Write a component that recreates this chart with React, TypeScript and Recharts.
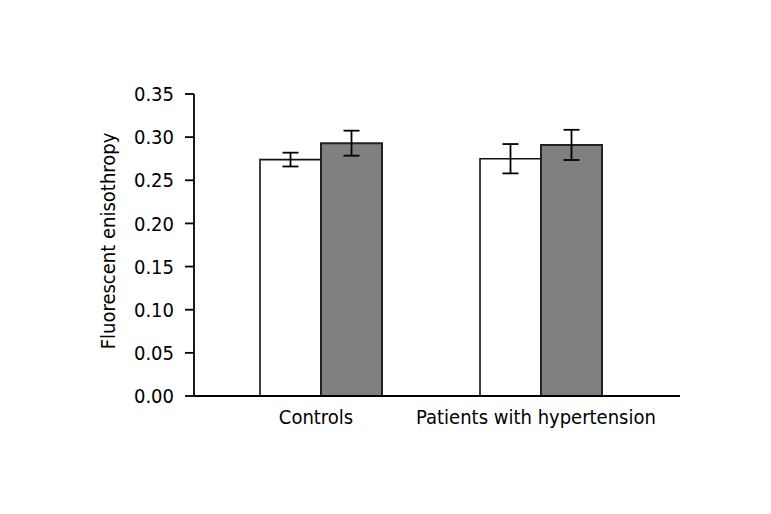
import React from "react";
import { BarChart, Bar, XAxis, YAxis, ErrorBar, Label } from "recharts";

const categories = ["Controls", "Patients with hypertension"];
const whiteValues = [0.274, 0.275];
const whiteErrors = [0.008, 0.017];
const grayValues = [0.293, 0.291];
const grayErrors = [0.0145, 0.0175];
const yTicks = [0, 0.05, 0.1, 0.15, 0.2, 0.25, 0.3, 0.35];

const data = categories.map((c, i) => ({
  name: c,
  white: whiteValues[i],
  whiteErr: whiteErrors[i],
  gray: grayValues[i],
  grayErr: grayErrors[i],
}));

const FONT = "'DejaVu Sans Condensed', 'Liberation Sans Narrow', sans-serif";

export default function App() {
  return (
    <div style={{ width: 763, height: 506, background: "#fff" }}>
      <BarChart
        width={763}
        height={506}
        data={data}
        margin={{ top: 86, right: 91, bottom: 78, left: 66 }}
        barGap={0}
        barSize={61}
      >
        <XAxis
          dataKey="name"
          axisLine={{ stroke: "#000", strokeWidth: 1.8 }}
          tickLine={false}
          tick={{ fill: "#000", fontSize: 20, fontFamily: FONT, dx: -5 }}
          tickMargin={8}
          padding={{ left: 17, right: 29 }}
          height={40}
        />
        <YAxis
          domain={[0, 0.35]}
          ticks={yTicks}
          interval={0}
          tickFormatter={(v: number) => v.toFixed(2)}
          axisLine={{ stroke: "#000", strokeWidth: 1.8 }}
          tickLine={{ stroke: "#000", strokeWidth: 1.8 }}
          tickSize={9}
          tickMargin={11}
          tick={{ fill: "#000", fontSize: 20, fontFamily: FONT }}
          width={120}
        >
          <Label
            content={(props: any) => {
              const vb = props.viewBox || {};
              const cx = vb.x + 34;
              const cy = vb.y + vb.height / 2 - 4;
              return (
                <text
                  x={cx}
                  y={cy}
                  transform={`rotate(-90, ${cx}, ${cy})`}
                  textAnchor="middle"
                  dominantBaseline="central"
                  fontSize={20}
                  fontFamily={FONT}
                  fill="#000"
                >
                  Fluorescent enisothropy
                </text>
              );
            }}
          />
        </YAxis>
        <Bar dataKey="white" fill="#ffffff" stroke="#111" strokeWidth={1.6} isAnimationActive={false}>
          <ErrorBar dataKey="whiteErr" width={8} stroke="#000" strokeWidth={1.8} direction="y" />
        </Bar>
        <Bar dataKey="gray" fill="#808080" stroke="#222" strokeWidth={2} isAnimationActive={false}>
          <ErrorBar dataKey="grayErr" width={8} stroke="#000" strokeWidth={1.8} direction="y" />
        </Bar>
      </BarChart>
    </div>
  );
}
